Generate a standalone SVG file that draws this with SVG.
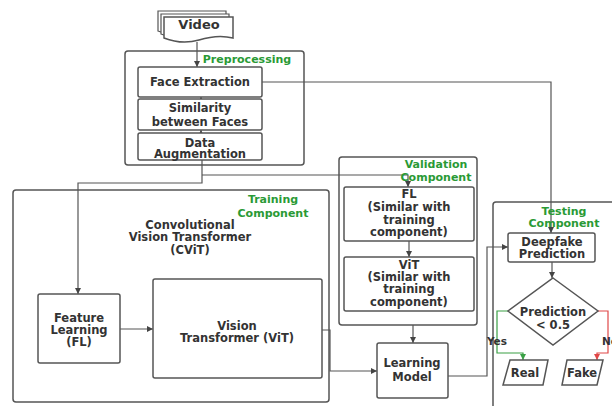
<svg xmlns="http://www.w3.org/2000/svg" width="612" height="406" viewBox="0 0 612 406">
<defs>
<marker id="ah" markerWidth="6" markerHeight="6" refX="6" refY="3" orient="auto" markerUnits="userSpaceOnUse"><path d="M0,0 L6,3 L0,6 z" fill="#444"/></marker>
<marker id="as" markerWidth="4" markerHeight="4" refX="4" refY="2" orient="auto" markerUnits="userSpaceOnUse"><path d="M0,0 L4,2 L0,4 z" fill="#444"/></marker>
<marker id="ahg" markerWidth="6" markerHeight="6" refX="6" refY="3" orient="auto" markerUnits="userSpaceOnUse"><path d="M0,0 L6,3 L0,6 z" fill="#3aa045"/></marker>
<marker id="ahr" markerWidth="6" markerHeight="6" refX="6" refY="3" orient="auto" markerUnits="userSpaceOnUse"><path d="M0,0 L6,3 L0,6 z" fill="#e04848"/></marker>
</defs>
<style>
.box{fill:#fff;stroke:#555;stroke-width:1.5}
.grp{fill:none;stroke:#555;stroke-width:1.5}
.t{font-family:"DejaVu Sans",sans-serif;font-weight:bold;font-size:11.5px;fill:#333;text-anchor:middle}
.g{font-family:"DejaVu Sans",sans-serif;font-weight:bold;font-size:11px;fill:#2a9a35;text-anchor:middle}
.c{fill:none;stroke:#555;stroke-width:1.2}
</style>
<rect width="612" height="406" fill="#fff"/>

<g id="preprocessing">
<rect class="grp" x="125" y="51" width="179" height="114" rx="3"/>
<text class="g" x="247" y="63">Preprocessing</text>
</g>
<g id="training">
<rect class="grp" x="13" y="190" width="316" height="212" rx="3"/>
<text class="g" x="273" y="203">Training</text>
<text class="g" x="273" y="217">Component</text>
<text class="t" x="190" y="229">Convolutional</text>
<text class="t" x="190" y="241">Vision Transformer</text>
<text class="t" x="190" y="254">(CViT)</text>
</g>
<g id="validation">
<rect class="grp" x="339" y="157" width="138" height="168" rx="3"/>
</g>
<g id="testing">
<rect class="grp" x="493" y="202" width="130" height="220" rx="3"/>
</g>

<g id="connectors">
<path class="c" d="M197,42 V67" marker-end="url(#ah)"/>
<path class="c" d="M201,100 V97" marker-end="url(#as)"/>
<path class="c" d="M201,134 V130" marker-end="url(#as)"/>
<path class="c" d="M202,160 V183 H78 V294" marker-end="url(#ah)"/>
<path class="c" d="M202,175 H408 V187" marker-end="url(#ah)"/>
<path class="c" d="M120,329 H153" marker-end="url(#ah)"/>
<path class="c" d="M322,330 H330 V371 H377" marker-end="url(#ah)"/>
<path class="c" d="M409,241 V257" marker-end="url(#ah)"/>
<path class="c" d="M413,325 V343" marker-end="url(#ah)"/>
<path class="c" d="M448,376 H487 V247 H508" marker-end="url(#ah)"/>
<path class="c" d="M262,82 H551 V233" marker-end="url(#ah)"/>
<path class="c" d="M552,262 V278" marker-end="url(#ah)"/>
<path d="M508,311 H497 V353 H523 V360" fill="none" stroke="#3aa045" stroke-width="1.2" marker-end="url(#ahg)"/>
<path d="M598,311 H608 V353 H597 V360" fill="none" stroke="#e04848" stroke-width="1.2" marker-end="url(#ahr)"/>
<text class="t" x="497" y="345" style="font-size:10.5px">Yes</text>
<text class="t" x="602" y="345" style="font-size:10.5px;text-anchor:start">No</text>
</g>

<g id="video">
<path d="M158,11 H226 V31 Q211,27 192,33 Q175,38 158,31 Z" fill="#fff" stroke="#555" stroke-width="1.2"/>
<path d="M161,14 H229 V34 Q214,30 195,36 Q178,41 161,34 Z" fill="#fff" stroke="#555" stroke-width="1.2"/>
<path d="M164,17 H233 V38 Q218,34 199,40 Q182,45 164,38 Z" fill="#fff" stroke="#555" stroke-width="1.5"/>
<text class="t" x="199" y="29" style="font-size:13px">Video</text>
</g>
<g id="face-extraction">
<rect class="box" x="138" y="67" width="124" height="30" rx="2"/>
<text class="t" x="200" y="86">Face Extraction</text>
</g>
<g id="similarity">
<rect class="box" x="138" y="99" width="124" height="31" rx="2"/>
<text class="t" x="200" y="112">Similarity</text>
<text class="t" x="200" y="126">between Faces</text>
</g>
<g id="data-augmentation">
<rect class="box" x="138" y="133" width="124" height="27" rx="2"/>
<text class="t" x="200" y="147">Data</text>
<text class="t" x="200" y="158">Augmentation</text>
</g>
<g id="feature-learning">
<rect class="box" x="38" y="294" width="82" height="69" rx="2"/>
<text class="t" x="79" y="322">Feature</text>
<text class="t" x="79" y="334">Learning</text>
<text class="t" x="79" y="346">(FL)</text>
</g>
<g id="vit">
<rect class="box" x="153" y="279" width="169" height="99" rx="2"/>
<text class="t" x="237" y="330">Vision</text>
<text class="t" x="237" y="342">Transformer (ViT)</text>
</g>
<g id="validation-label">
<text class="g" x="436" y="168">Validation</text>
<text class="g" x="436" y="181">Component</text>
</g>
<g id="val-fl">
<rect class="box" x="344" y="187" width="130" height="54" rx="2"/>
<text class="t" x="409" y="198">FL</text>
<text class="t" x="409" y="211">(Similar with</text>
<text class="t" x="409" y="224">training</text>
<text class="t" x="409" y="236">component)</text>
</g>
<g id="val-vit">
<rect class="box" x="344" y="257" width="130" height="54" rx="2"/>
<text class="t" x="409" y="269">ViT</text>
<text class="t" x="409" y="281">(Similar with</text>
<text class="t" x="409" y="293">training</text>
<text class="t" x="409" y="306">component)</text>
</g>
<g id="learning-model">
<rect class="box" x="377" y="343" width="71" height="55" rx="2"/>
<text class="t" x="412" y="367">Learning</text>
<text class="t" x="412" y="381">Model</text>
</g>
<g id="testing-label">
<text class="g" x="564" y="215">Testing</text>
<text class="g" x="564" y="227">Component</text>
</g>
<g id="deepfake-prediction">
<rect class="box" x="508" y="233" width="87" height="29" rx="2"/>
<text class="t" x="552" y="246">Deepfake</text>
<text class="t" x="552" y="258">Prediction</text>
</g>
<g id="decision">
<polygon points="553,278 598,311 553,345 508,311" fill="#fff" stroke="#555" stroke-width="1.5"/>
<text class="t" x="553" y="316">Prediction</text>
<text class="t" x="553" y="329">&lt; 0.5</text>
</g>
<g id="real">
<polygon points="510,360 548,360 543,385 503,385" fill="#fff" stroke="#555" stroke-width="1.5"/>
<text class="t" x="525" y="377">Real</text>
</g>
<g id="fake">
<polygon points="567,360 603,360 597,385 562,385" fill="#fff" stroke="#555" stroke-width="1.5"/>
<text class="t" x="582" y="377">Fake</text>
</g>
</svg>
